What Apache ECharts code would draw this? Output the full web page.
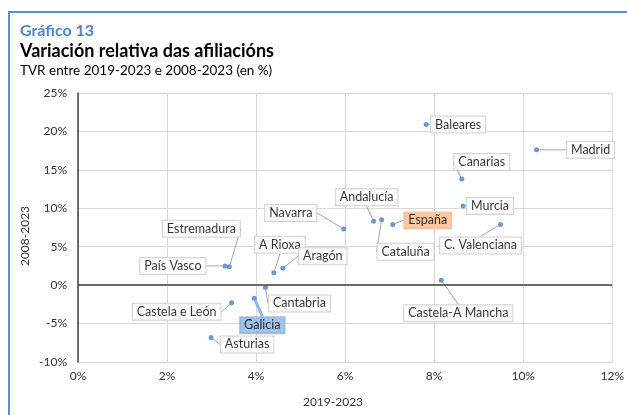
<!DOCTYPE html>
<html>
<head>
<meta charset="utf-8">
<script src="https://cdn.jsdelivr.net/npm/echarts@6/dist/echarts.min.js"></script>
<style>
  html, body { margin: 0; padding: 0; background: #fff; }
  #myChart { width: 627px; height: 415px; }
</style>
</head>
<body>
<div id="myChart"></div>
<script>
// comunidades autónomas
const regions = ["Baleares", "Madrid", "Canarias", "Murcia", "Andalucía", "España", "Cataluña",
  "C. Valenciana", "Castela-A Mancha", "Navarra", "Estremadura", "País Vasco", "A Rioxa",
  "Aragón", "Cantabria", "Castela e León", "Galicia", "Asturias"];
// TVR 2019-2023 (eixo X, %)
const tvr2019 = [7.82, 10.30, 8.62, 8.65, 6.64, 7.07, 6.82, 9.49, 8.16, 5.97, 3.40, 3.30, 4.40,
  4.60, 4.21, 3.45, 3.96, 2.99];
// TVR 2008-2023 (eixo Y, %)
const tvr2008 = [20.9, 17.6, 13.8, 10.3, 8.3, 7.9, 8.5, 7.9, 0.65, 7.3, 2.4, 2.5, 1.6, 2.2,
  -0.3, -2.3, -1.7, -6.8];
const xTicks = { min: 0, max: 12, interval: 2 };
const yTicks = { min: -10, max: 25, interval: 5 };

// desprazamento das etiquetas (px)
const labelDx = [32, 54, 20, 27, -7, 35, 24, -20, 17, -53, -28, -52, 6, 40, 34, -55, 8, 36];
const labelDy = [0, 0, -17, 0, -24, -4, 32, 21, 33, -16, -38, 0, -28, -12, 16, 9, 27, 7];

const textColor = "#333";
const fontFamily = "Lato, 'Open Sans', sans-serif";
const highlight = { "España": "#F9BC8F", "Galicia": "#8DB4E2" };

let myChart = echarts.init(document.getElementById("myChart"));

let points = regions.map(function (name, i) {
  let item = { name: name, value: [tvr2019[i], tvr2008[i]] };
  if (highlight[name]) {
    item.label = { backgroundColor: highlight[name], borderColor: highlight[name] };
  }
  if (name === "Galicia") {
    item.labelLine = { lineStyle: { color: highlight[name], width: 3 } };
  }
  return item;
});

var option = {
  animation: false,
  textStyle: { fontFamily: fontFamily },
  title: [{
    text: "Gráfico 13",
    left: 15, top: 18,
    textStyle: { color: "#4F84C9", fontSize: 16, fontWeight: "bold", fontFamily: fontFamily }
  }, {
    text: "Variación relativa das afiliacións",
    subtext: "TVR entre 2019-2023 e 2008-2023 (en %)",
    left: 15, top: 37, itemGap: 4,
    textStyle: { color: "#000", fontSize: 18, fontWeight: "bold", fontFamily: fontFamily },
    subtextStyle: { color: "#000", fontSize: 13.5, fontFamily: fontFamily }
  }],
  graphic: [{
    type: "polyline",
    shape: { points: [[9, 415], [9, 12], [627, 12]] },
    style: { stroke: "#5B8FD3", lineWidth: 2, fill: null }
  }, {
    type: "text", x: 333, y: 402,
    style: { text: "2019-2023", fill: textColor, font: "12px " + fontFamily, align: "center", verticalAlign: "middle" }
  }, {
    type: "text", x: 25, y: 236, rotation: Math.PI / 2,
    style: { text: "2008-2023", fill: textColor, font: "12px " + fontFamily, align: "center", verticalAlign: "middle" }
  }],
  grid: { left: 78, right: 11, top: 93, bottom: 53 },
  xAxis: {
    type: "value",
    min: xTicks.min, max: xTicks.max, interval: xTicks.interval,
    axisLine: { show: false },
    axisTick: { show: false },
    axisLabel: { formatter: "{value}%", color: textColor, fontSize: 12, margin: 8 },
    splitLine: { lineStyle: { color: "#D9D9D9" } }
  },
  yAxis: {
    type: "value",
    min: yTicks.min, max: yTicks.max, interval: yTicks.interval,
    axisLine: { show: true, onZero: false, lineStyle: { color: "#404040", width: 1.5 } },
    axisTick: { show: false },
    axisLabel: { formatter: "{value}%", color: textColor, fontSize: 12, margin: 11 },
    splitLine: { lineStyle: { color: "#D9D9D9" } }
  },
  series: [{
    type: "scatter",
    data: points,
    symbolSize: 5,
    itemStyle: { color: "#4A7EC7" },
    label: {
      show: true,
      position: "inside",
      formatter: "{b}",
      color: "#000",
      fontSize: 12.5,
      fontFamily: fontFamily,
      backgroundColor: "#fff",
      borderColor: "#C8C8C8",
      borderWidth: 1,
      padding: [2, 4, 1, 4]
    },
    labelLine: { show: true, lineStyle: { color: "#A6A6A6", width: 1 } },
    labelLayout: function (params) {
      return { dx: labelDx[params.dataIndex], dy: labelDy[params.dataIndex] };
    },
    markLine: {
      silent: true,
      symbol: "none",
      label: { show: false },
      lineStyle: { color: "#404040", width: 1.5, type: "solid" },
      data: [{ yAxis: 0 }]
    }
  }]
};

myChart.setOption(option);
</script>
</body>
</html>
